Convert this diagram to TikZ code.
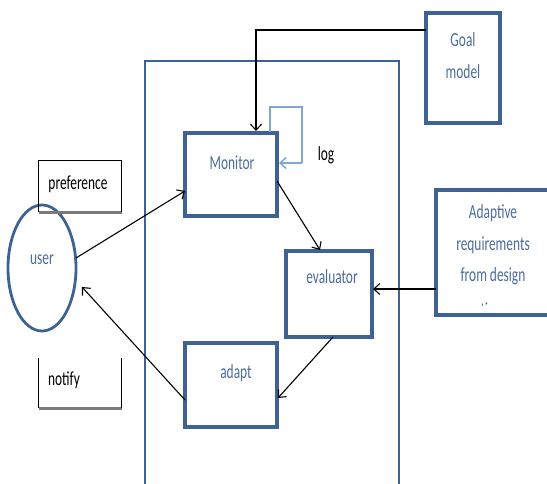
\documentclass[tikz,border=0pt]{standalone}
\usepackage{fontspec}
\setmainfont{Carlito}[FakeStretch=0.67]
\usetikzlibrary{arrows.meta}
\definecolor{boxblue}{HTML}{3E6292}
\definecolor{txtblue}{HTML}{4C6C9C}
\definecolor{loopblue}{HTML}{7FA6D6}
\definecolor{shadowgray}{HTML}{7A7A7A}
\tikzset{
  blk/.style={draw=boxblue, line width=3.2pt},
  lbl/.style={text=txtblue, font=\fontsize{20}{22}\selectfont, inner sep=0pt},
  plain/.style={text=black, font=\fontsize{20}{22}\selectfont, inner sep=0pt},
  conn/.style={draw=black, line width=1.1pt, -{Straight Barb[length=6pt,width=11pt]}},
}
\begin{document}
\begin{tikzpicture}[x=1pt,y=-1pt]
\useasboundingbox (0,0) rectangle (547,484);
% system container, open at the bottom
\draw[draw=boxblue, line width=2.6pt] (145,495) -- (145,61) -- (399,61) -- (399,495);

% external boxes
\draw[blk] (426,13) rectangle (500,123);
\node[lbl] (goalA) at (463,40) {Goal};
\node[lbl] (goalB) at (463,72) {model};
\coordinate (goalL) at (426,30);

\draw[blk] (436,190) rectangle (552,315);
\node[lbl] at (493,213) {Adaptive};
\node[lbl] at (493,245) {requirements};
\node[lbl] at (493,276) {from design};
\begin{scope}
  \clip (436,190) rectangle (552,306);
  \node[lbl] at (493,310) {time};
\end{scope}
\coordinate (adaL) at (436,289);

% inner components
\draw[blk] (185,133) rectangle (277,216);
\node[lbl] (mon) at (232,163) {Monitor};
\draw[blk] (286,251) rectangle (372,337);
\node[lbl] (eval) at (332,277) {evaluator};
\draw[blk] (185,343) rectangle (277,427);
\node[lbl] (adp) at (236,373) {adapt};

% user side
\draw[draw=boxblue, line width=2.8pt] (42,268) ellipse [x radius=34, y radius=63];
\node[lbl] (user) at (42,260) {user};

\fill[shadowgray] (39,211) rectangle (122,214);
\draw[black, line width=0.6pt] (38,212) -- (38,160) -- (121,160) -- (121,212);
\node[plain] (pref) at (78,184) {preference};

\fill[shadowgray] (39,407) rectangle (122,410);
\draw[black, line width=0.6pt] (38,408) -- (38,358);
\draw[black, line width=0.6pt] (121,408) -- (121,358);
\node[plain] (ntf) at (64,380) {notify};

\node[plain] (logl) at (326,155) {log};

% connectors
\draw[conn] (goalL) -- (256,30) -- (256,131);
\draw[loopblue, line width=1.5pt] (270,132) -- (270,107) -- (302,107) -- (302,163);
\draw[loopblue, line width=1.5pt, -{Straight Barb[length=6pt,width=11pt]}] (302,163) -- (279,163);
\draw[conn] (76,258) -- (185,191);
\draw[conn] (277,181) -- (320,250);
\draw[conn] (adaL) -- (373,289);
\draw[conn] (333,337) -- (278,398);
\draw[conn] (185,400) -- (82,287);
\end{tikzpicture}
\end{document}
